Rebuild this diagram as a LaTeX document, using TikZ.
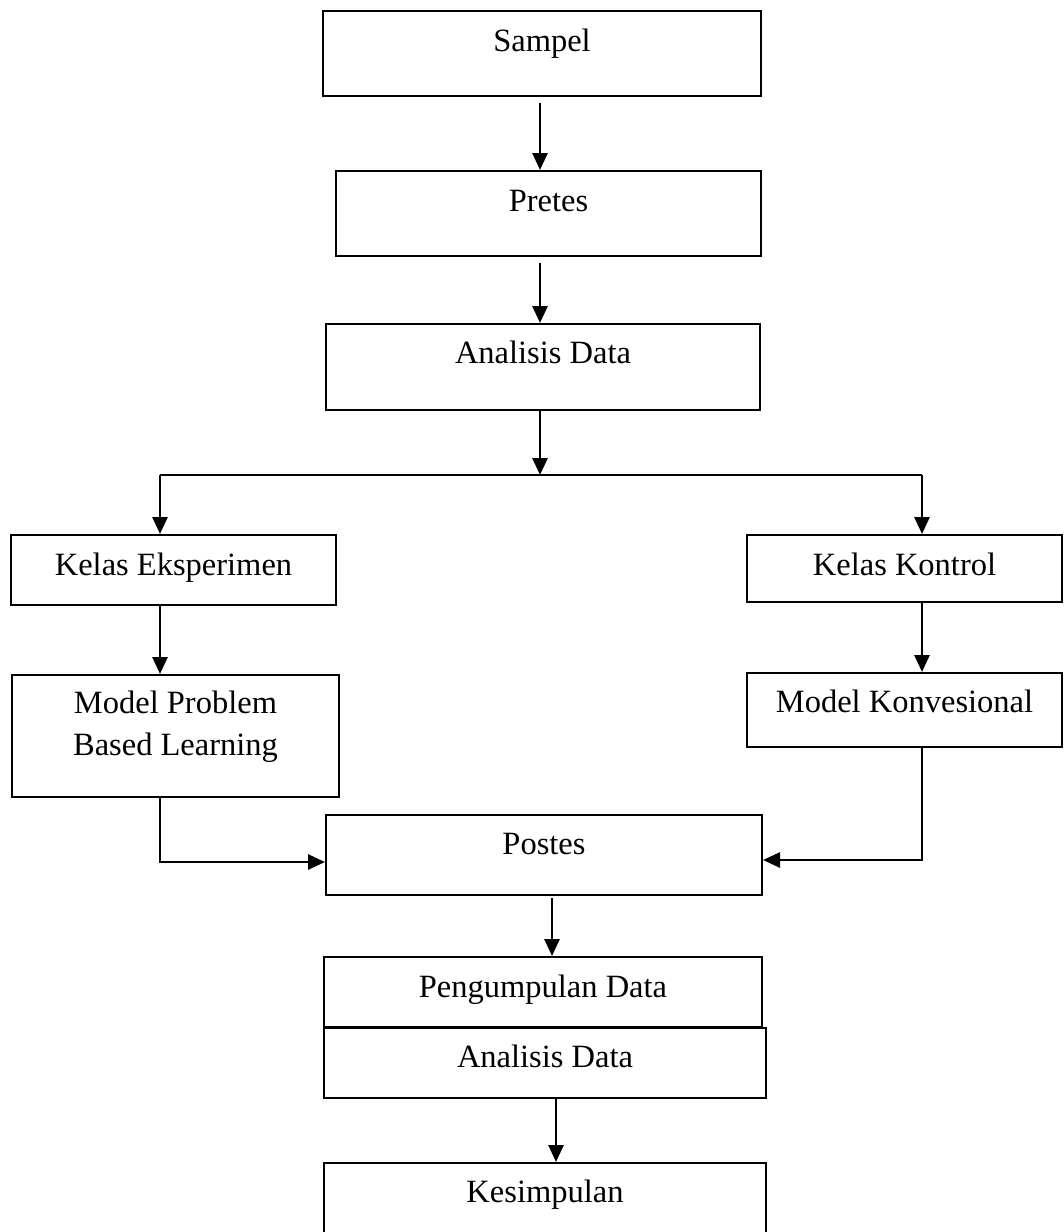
\documentclass[tikz,border=0pt]{standalone}
\usepackage{fontspec}
\setmainfont{Liberation Serif}
\usetikzlibrary{arrows.meta}

\tikzset{
    box/.style={draw, line width=2pt, inner xsep=0pt, inner ysep=0pt,
        font=\fontsize{32.5}{42}\selectfont},
    arr/.style={-{Triangle[length=17pt,width=15pt]}, line width=2.8pt},
    link/.style={line width=2.8pt},
}

\begin{document}
\begin{tikzpicture}[x=1pt, y=-1pt]
    % Page frame
    \useasboundingbox (0,0) rectangle (1064,1232);

    % Top column
    \node[box, minimum width=438pt, text height=40pt, text depth=45pt] (sampel) at (542,53.5) {Sampel};
    \node[box, minimum width=425pt, text height=40pt, text depth=45pt] (pretes) at (548.5,213.5) {Pretes};
    \node[box, minimum width=434pt, text height=39pt, text depth=47pt] (analisis) at (543,367) {Analisis Data};

    % Two classes
    \node[box, minimum width=325pt, text height=40pt, text depth=30pt] (eksperimen) at (173.5,570) {Kelas Eksperimen};
    \node[box, minimum width=315pt, text height=40pt, text depth=27pt] (kontrol) at (904.5,568.5) {Kelas Kontrol};
    \node[box, minimum width=327pt, text height=80pt, text depth=42pt, align=center] (pbl) at (175.5,736) {Model Problem\\Based Learning};
    \node[box, minimum width=315pt, text height=39pt, text depth=35pt] (konvensional) at (904.5,710) {Model Konvesional};

    % Bottom column
    \node[box, minimum width=436pt, text height=39pt, text depth=41pt] (postes) at (544,855) {Postes};
    \node[box, minimum width=438pt, text height=40pt, text depth=30pt] (pengumpulan) at (543,992) {Pengumpulan Data};
    \node[box, minimum width=442pt, text height=39pt, text depth=31pt] (analisis2) at (545,1063) {Analisis Data};
    \node[box, minimum width=442pt, text height=39pt, text depth=60pt] (kesimpulan) at (545,1212.5) {Kesimpulan};

    % Branch points
    \coordinate (split) at (540,475);
    \coordinate (left) at (160,475);
    \coordinate (right) at (922,475);
    \coordinate (lower) at (552,900);
    \coordinate (lower2) at (556,1100);

    % Connectors
    \draw[arr, shorten <=6pt] (sampel.south -| split) -- (pretes.north -| split);
    \draw[arr, shorten <=6pt] (pretes.south -| split) -- (analisis.north -| split);
    \draw[arr] (analisis.south -| split) -- (split);
    \draw[link] (left) -- (right);
    \draw[arr] (left) -- (left |- eksperimen.north);
    \draw[arr] (right) -- (right |- kontrol.north);
    \draw[arr] (eksperimen.south -| left) -- (pbl.north -| left);
    \draw[arr] (kontrol.south -| right) -- (konvensional.north -| right);
    \draw[arr] (pbl.south -| left) |- ([yshift=-7pt]postes.west);
    \draw[arr] (konvensional.south -| right) |- ([yshift=-5pt]postes.east);
    \draw[arr, shorten <=2pt] (postes.south -| lower) -- (pengumpulan.north -| lower);
    \draw[arr] (analisis2.south -| lower2) -- (kesimpulan.north -| lower2);
\end{tikzpicture}
\end{document}
